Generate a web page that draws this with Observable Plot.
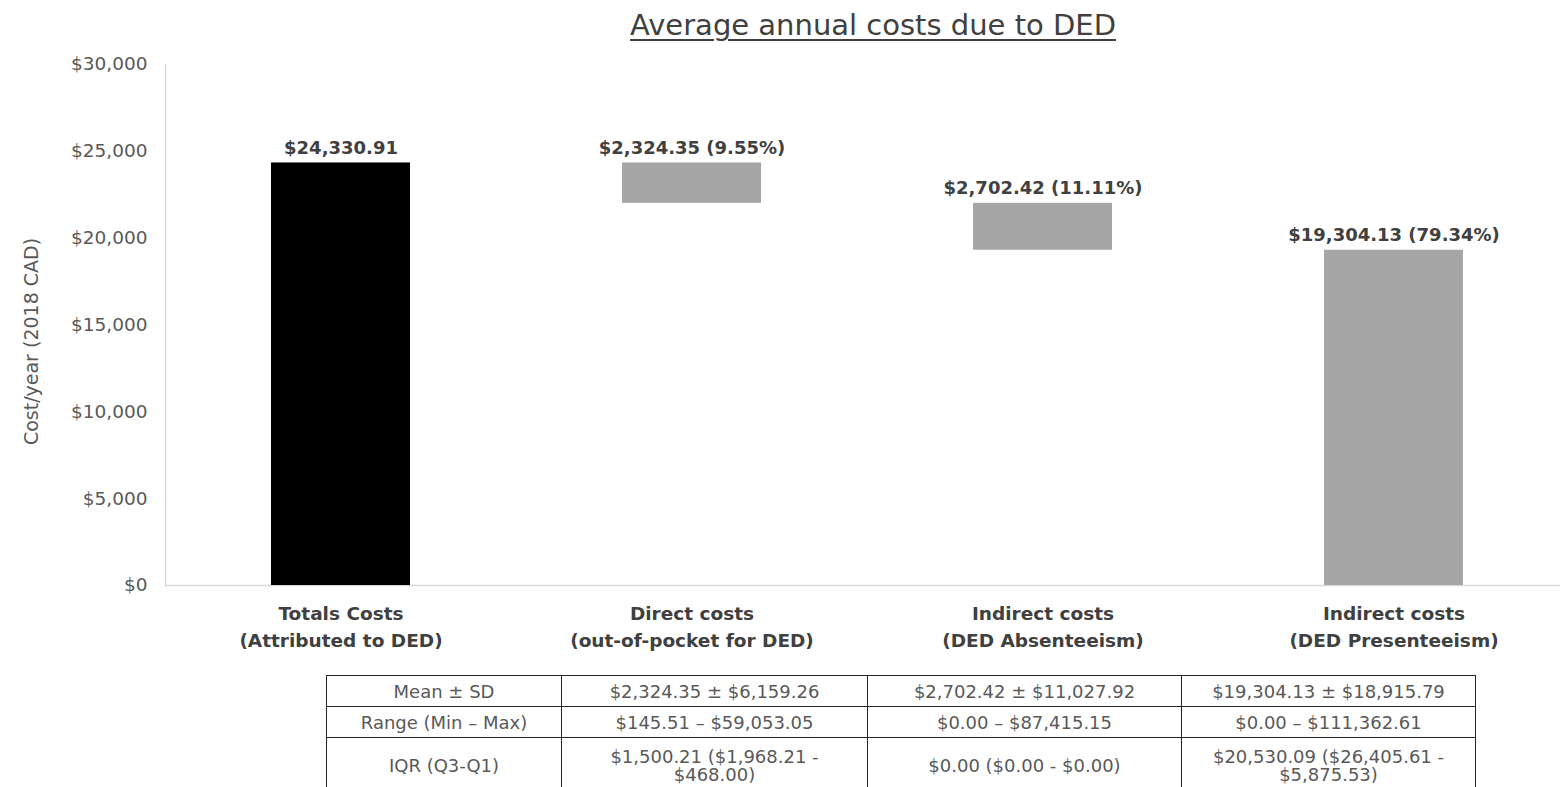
<!DOCTYPE html>
<html><head><meta charset="utf-8">
<script src="https://cdn.jsdelivr.net/npm/d3@7"></script>
<script src="https://cdn.jsdelivr.net/npm/@observablehq/plot@0.6"></script>
<style>
body{margin:0;background:#fff;font-family:"DejaVu Sans",sans-serif;}
#wrap{position:relative;width:1560px;height:787px;overflow:hidden;background:#fff;}
#title{position:absolute;top:8px;left:873px;transform:translateX(-50%);font-size:29px;line-height:34px;color:#404040;text-decoration:underline;text-underline-offset:4px;text-decoration-thickness:1.5px;white-space:nowrap;}
#chart{position:absolute;top:50px;left:0;}
#tbl{position:absolute;top:675px;left:326px;border-collapse:collapse;font-size:18px;color:#595959;table-layout:fixed;}
#tbl td{border:1.5px solid #262626;text-align:center;padding:0 4px;white-space:pre-line;line-height:19px;height:30px;}
#tbl tr.tall td{height:56px;line-height:18px;}
</style></head>
<body><div id="wrap"><div id="title"></div><div id="chart"></div><table id="tbl"></table></div>
<script>
const title = "Average annual costs due to DED";
const yLabel = "Cost/year (2018 CAD)";
const categories = [
  "Totals Costs\n(Attributed to DED)",
  "Direct costs\n(out-of-pocket for DED)",
  "Indirect costs\n(DED Absenteeism)",
  "Indirect costs\n(DED Presenteeism)"
];
const values = [24330.91, 2324.35, 2702.42, 19304.13];
const percents = [null, 9.55, 11.11, 79.34];
const kinds = ["total", "part", "part", "part"];
const yTicks = [0, 5000, 10000, 15000, 20000, 25000, 30000];

const tableRowHeaders = ["Mean ± SD", "Range (Min – Max)", "IQR (Q3-Q1)"];
const tableDirect = ["$2,324.35 ± $6,159.26", "$145.51 – $59,053.05", "$1,500.21 ($1,968.21 -\n$468.00)"];
const tableAbsenteeism = ["$2,702.42 ± $11,027.92", "$0.00 – $87,415.15", "$0.00 ($0.00 - $0.00)"];
const tablePresenteeism = ["$19,304.13 ± $18,915.79", "$0.00 – $111,362.61", "$20,530.09 ($26,405.61 -\n$5,875.53)"];
const tableColWidths = [235, 306, 314, 294];

document.getElementById("title").textContent = title;

const money = d3.format(",.2f");
let running = values[0];
const data = categories.map((cat, i) => {
  let y1, y2;
  if (i === 0) { y1 = 0; y2 = values[0]; }
  else { y2 = running; y1 = Math.max(0, running - values[i]); running -= values[i]; }
  const label = "$" + money(values[i]) + (percents[i] != null ? ` (${percents[i]}%)` : "");
  return {cat, y1, y2, kind: kinds[i], label};
});

const marks = [
  Plot.ruleY([0], {stroke: "#d9d9d9", strokeWidth: 1.5}),
  Plot.barY(data, {x: "cat", y1: "y1", y2: "y2", fill: "kind"}),
  Plot.text(data, {x: "cat", y: "y2", text: "label", lineAnchor: "bottom", dy: -9, fontWeight: "bold", fontSize: 18, fill: "#404040"}),
  Plot.axisY({ticks: yTicks, tickFormat: d => "$" + d3.format(",")(d), tickSize: 0, tickPadding: 18, fontSize: 18.5, color: "#595959", label: null}),
  Plot.axisX({tickSize: 0, tickPadding: 15, fontSize: 18.5, fontWeight: "bold", color: "#404040", label: null, lineHeight: 1.46}),
  Plot.text([yLabel], {frameAnchor: "left", textAnchor: "middle", rotate: -90, dx: -134, dy: 16.5, fontSize: 19, fill: "#595959"})
];

function build(extra) {
  return Plot.plot({
    width: 1560, height: 618,
    marginTop: 14, marginBottom: 83, marginLeft: 165, marginRight: -9,
    style: {fontFamily: "DejaVu Sans", background: "#fff", overflow: "hidden"},
    x: {domain: categories, paddingInner: 0.604, paddingOuter: 0.302, axis: null},
    y: {domain: [0, 30000], axis: null},
    color: {domain: ["total", "part"], range: ["#000000", "#a6a6a6"]},
    marks: [...extra, ...marks]
  });
}
let chart;
try { chart = build([Plot.frame({anchor: "left", stroke: "#d9d9d9", strokeWidth: 1.5})]); }
catch (e) { chart = build([]); }
document.getElementById("chart").appendChild(chart);

const tbl = document.getElementById("tbl");
const cg = document.createElement("colgroup");
tableColWidths.forEach(w => { const c = document.createElement("col"); c.style.width = w + "px"; cg.appendChild(c); });
tbl.appendChild(cg);
tableRowHeaders.forEach((h, r) => {
  const tr = document.createElement("tr");
  if (r === 2) tr.className = "tall";
  [h, tableDirect[r], tableAbsenteeism[r], tablePresenteeism[r]].forEach(t => {
    const td = document.createElement("td"); td.textContent = t; tr.appendChild(td);
  });
  tbl.appendChild(tr);
});
</script></body></html>
